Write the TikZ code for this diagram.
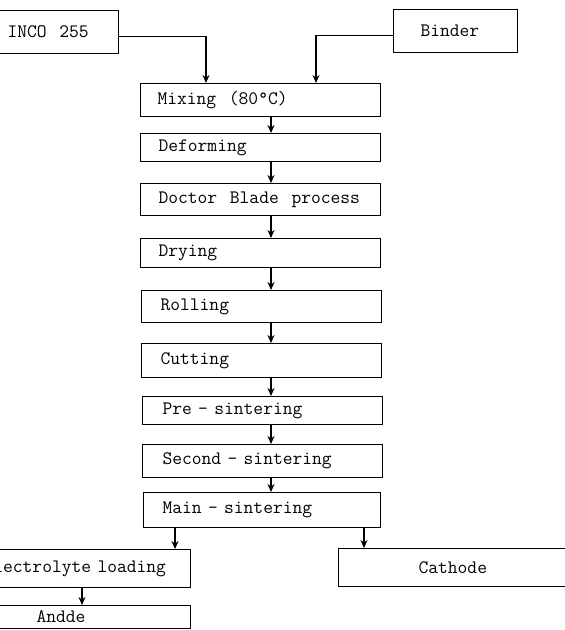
\documentclass[tikz,border=0pt]{standalone}
\usetikzlibrary{arrows.meta}
\begin{document}
\begin{tikzpicture}[x={(1pt,0pt)}, y={(0pt,-1pt)},
  pbox/.style args={#1/#2/#3}{draw, line width=1.1pt, rectangle, anchor=north west,
    inner xsep=0pt, inner ysep=0pt, align=left,
    minimum width=#1, minimum height=#2, text width=#3,
    font=\ttfamily\fontsize{19}{22}\selectfont},
  arr/.style={line width=1.1pt, -{Stealth[length=8pt,width=7pt]}}]
\useasboundingbox (0,0) rectangle (565,630);
\clip (0,0) rectangle (565,630);
\coordinate (ix) at (206,0);
\coordinate (bx) at (316,0);
\coordinate (mx) at (271,0);
\coordinate (ex) at (175,0);
\coordinate (cx) at (364,0);
\coordinate (nx) at (82,0);

\node[pbox=138pt/43pt/84pt] (inco) at (-20,10) {INCO~~255};
\node[pbox=124pt/43pt/70pt] (binder) at (393,9) {Binder};
\node[pbox=240pt/33pt/206pt] (mix) at (140,83) {Mixing~~(80\textdegree C)};
\node[pbox=240pt/28pt/204pt] (def) at (140,133) {Deforming};
\node[pbox=240pt/32pt/204pt] (doc) at (140,183) {Doctor~~Blade~~process};
\node[pbox=240pt/29pt/204pt] (dry) at (140,238) {Drying};
\node[pbox=240pt/32pt/202pt] (rol) at (141,290) {Rolling};
\node[pbox=240pt/34pt/202pt] (cut) at (141,343) {Cutting};
\node[pbox=240pt/28pt/200pt] (pre) at (142,396) {Pre - sintering};
\node[pbox=240pt/33pt/200pt] (sec) at (142,444) {Second - sintering};
\node[pbox=237pt/35pt/199pt] (main) at (143,492) {Main - sintering};
\node[pbox=220pt/38pt/194pt] (elec) at (-30,549) {Electrolyte loading};
\node[pbox=262pt/38pt/102pt] (cath) at (338,548) {Cathode};
\node[pbox=210pt/23pt/98pt] (anode) at (-20,605) {Andde};

\draw[arr] ([yshift=-4pt]inco.east) -| (mix.north -| ix);
\draw[arr] ([yshift=-4pt]binder.west) -| (mix.north -| bx);
\draw[arr] (mix.south -| mx) -- (def.north -| mx);
\draw[arr] (def.south -| mx) -- (doc.north -| mx);
\draw[arr] (doc.south -| mx) -- (dry.north -| mx);
\draw[arr] (dry.south -| mx) -- (rol.north -| mx);
\draw[arr] (rol.south -| mx) -- (cut.north -| mx);
\draw[arr] (cut.south -| mx) -- (pre.north -| mx);
\draw[arr] (pre.south -| mx) -- (sec.north -| mx);
\draw[arr] (sec.south -| mx) -- (main.north -| mx);
\draw[arr] (main.south -| ex) -- (elec.north -| ex);
\draw[arr] (main.south -| cx) -- (cath.north -| cx);
\draw[arr] (elec.south -| nx) -- (anode.north -| nx);
\end{tikzpicture}
\end{document}
